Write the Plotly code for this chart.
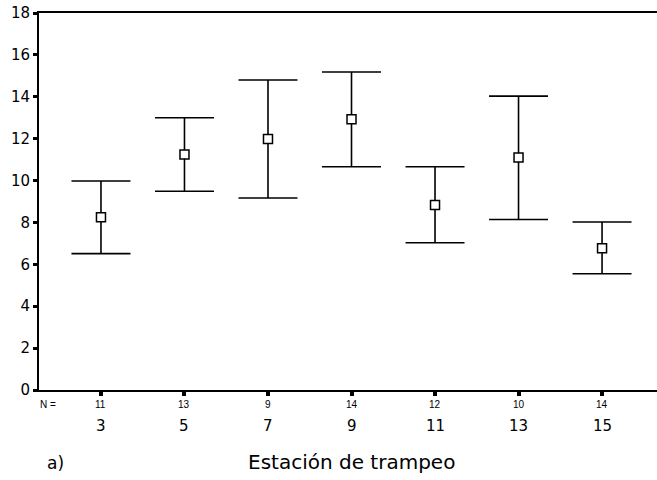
import plotly.graph_objects as go

stations = ["3", "5", "7", "9", "11", "13", "15"]
n_counts = ["11", "13", "9", "14", "12", "10", "14"]
means = [8.25, 11.25, 11.98, 12.93, 8.83, 11.1, 6.77]
upper = [9.98, 13.0, 14.8, 15.18, 10.66, 14.03, 8.02]
lower = [6.51, 9.49, 9.17, 10.66, 7.03, 8.14, 5.55]

xs = list(range(len(stations)))
err_plus = [u - m for u, m in zip(upper, means)]
err_minus = [m - l for m, l in zip(means, lower)]

fig = go.Figure()
fig.add_trace(go.Scatter(
    x=xs, y=means, mode="markers",
    marker=dict(symbol="square", size=9, color="white",
                line=dict(color="black", width=1.5)),
    error_y=dict(type="data", symmetric=False, array=err_plus,
                 arrayminus=err_minus, color="black", thickness=1.6,
                 width=29.5),
    showlegend=False, hoverinfo="skip",
))

annotations = []
for x, n, s in zip(xs, n_counts, stations):
    annotations.append(dict(x=x, y=0, xref="x", yref="paper", text=n,
                            showarrow=False, yanchor="middle", yshift=-14,
                            font=dict(family="Liberation Sans", size=10, color="black")))
    annotations.append(dict(x=x, y=0, xref="x", yref="paper", text=s,
                            showarrow=False, yanchor="middle", yshift=-36,
                            font=dict(family="DejaVu Sans", size=15, color="black")))
annotations.append(dict(x=-0.0016, y=0, xref="paper", yref="paper", text="N =",
                        showarrow=False, yanchor="middle", yshift=-14,
                        font=dict(family="Liberation Sans", size=10, color="black")))
annotations.append(dict(x=0.0097, y=0, xref="paper", yref="paper", text="a)",
                        showarrow=False, yanchor="middle", yshift=-73,
                        font=dict(family="DejaVu Sans", size=17, color="black")))
annotations.append(dict(x=0.505, y=0, xref="paper", yref="paper",
                        text="Estación de trampeo",
                        showarrow=False, yanchor="middle", yshift=-72,
                        font=dict(family="DejaVu Sans", size=20, color="black")))

fig.update_layout(
    width=657, height=480,
    margin=dict(l=39, r=0, t=13, b=90),
    paper_bgcolor="white", plot_bgcolor="white",
    annotations=annotations,
    hovermode=False,
    xaxis=dict(range=[-0.742, 6.658], tickvals=xs, ticktext=[""] * len(xs),
               showgrid=False, zeroline=False, showline=True, linecolor="black",
               linewidth=2, mirror=True, ticks="outside", ticklen=4,
               tickwidth=4, tickcolor="black", fixedrange=True),
    yaxis=dict(range=[0, 18], dtick=2, tick0=0, showgrid=False, zeroline=False,
               showline=True, linecolor="black", linewidth=2, ticks="outside",
               ticklen=4, tickwidth=3, tickcolor="black", fixedrange=True,
               tickfont=dict(family="DejaVu Sans", size=15, color="black")),
)

fig.write_html("out.html",
               config={"displayModeBar": False, "staticPlot": True},
               post_script="document.body.style.margin='0';document.body.style.overflow='hidden';")
